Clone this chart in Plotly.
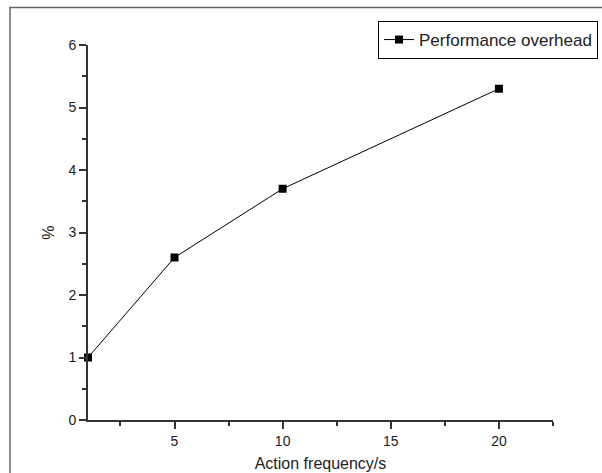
import plotly.graph_objects as go

freq = [1, 5, 10, 20]
overhead = [1.0, 2.6, 3.7, 5.3]
series_name = "Performance overhead"
x_title = "Action frequency/s"
y_title = "%"
x_ticks = [5, 10, 15, 20]
y_ticks = [0, 1, 2, 3, 4, 5, 6]

font = "Liberation Sans, Arial, sans-serif"
axis_col = "#333333"
txt_col = "#222222"

fig = go.Figure()
fig.add_trace(go.Scatter(
    x=freq, y=overhead, name=series_name, mode="lines+markers",
    line=dict(color="black", width=1),
    marker=dict(symbol="square", size=8, color="black"),
    cliponaxis=False, showlegend=True,
))

common = dict(
    showgrid=False, zeroline=False, showline=True, linecolor=axis_col, linewidth=2,
    ticks="outside", ticklen=7, tickwidth=1.5, tickcolor=axis_col,
    tickfont=dict(family=font, size=14, color=txt_col),
    automargin=False,
    minor=dict(ticks="outside", ticklen=4, tickwidth=1.5, tickcolor=axis_col),
)

fig.update_xaxes(range=[1, 22.5], tickvals=x_ticks, **common,
                 title=dict(text=x_title, font=dict(family=font, size=16, color=txt_col), standoff=10))
fig.update_xaxes(minor_dtick=2.5, minor_tick0=0)
fig.update_yaxes(range=[0, 6], tickvals=y_ticks, **common,
                 title=dict(text=y_title, font=dict(family=font, size=16, color=txt_col), standoff=10))
fig.update_yaxes(minor_dtick=0.5, minor_tick0=0)

fig.add_shape(type="rect", xref="paper", yref="paper",
              x0=(10 - 88) / 465, x1=2.0, y0=-1.0, y1=(420 - 7.5) / 375,
              line=dict(color="#666666", width=1.5), layer="below")

fig.update_layout(
    width=602, height=473,
    margin=dict(l=88, r=49, t=45, b=53, autoexpand=False),
    plot_bgcolor="white", paper_bgcolor="white",
    font=dict(family=font),
    legend=dict(
        x=(598 - 88) / 465, xanchor="right", y=(420 - 21) / 375, yanchor="top",
        bordercolor="black", borderwidth=1, bgcolor="white",
        font=dict(family=font, size=17, color=txt_col),
        itemwidth=30, tracegroupgap=0,
    ),
)

fig.write_html("out.html", config={"displayModeBar": False},
               post_script="document.body.style.margin='0';document.body.style.padding='0';")
